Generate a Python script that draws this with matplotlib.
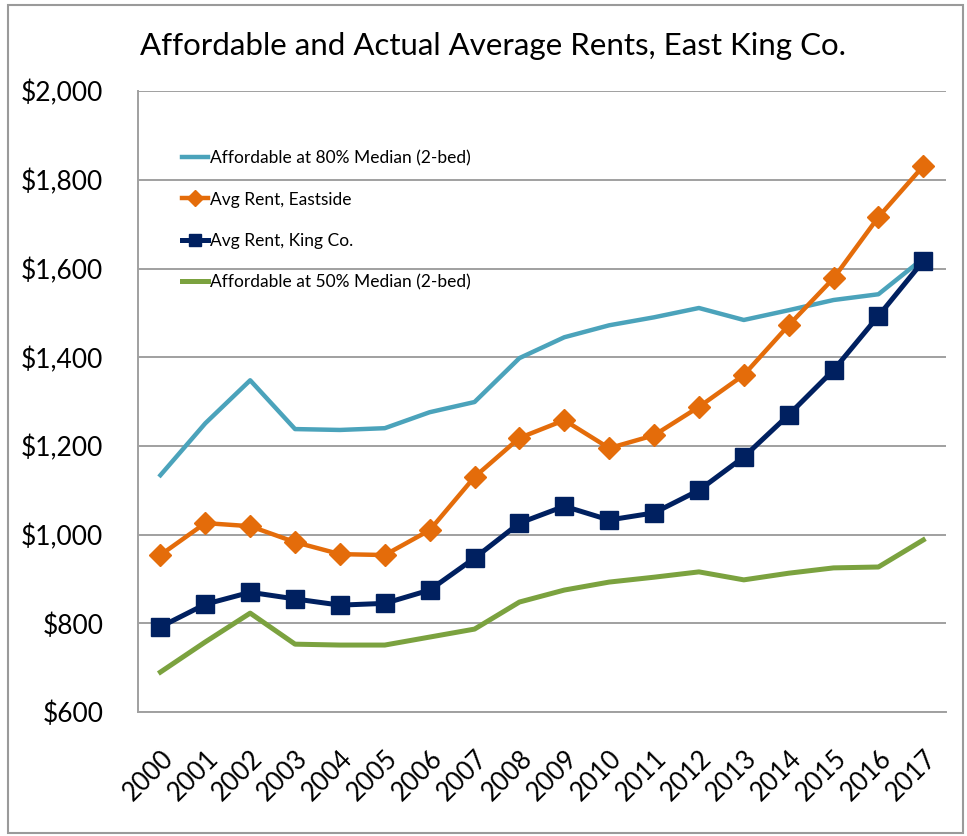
import numpy as np
import matplotlib
matplotlib.use("Agg")
import matplotlib.pyplot as plt
from matplotlib.patches import Rectangle
from matplotlib.ticker import FuncFormatter

years = [str(y) for y in range(2000, 2018)]

afford_80 = [1134, 1251, 1348, 1238, 1236, 1240, 1276, 1299, 1398, 1445,
             1472, 1490, 1511, 1484, 1506, 1529, 1542, 1623]
rent_eastside = [954, 1026, 1019, 983, 956, 954, 1010, 1130, 1218, 1258,
                 1195, 1224, 1288, 1360, 1472, 1578, 1716, 1831]
rent_king = [792, 843, 870, 855, 841, 845, 875, 947, 1026, 1064,
             1033, 1049, 1100, 1175, 1270, 1371, 1493, 1617]
afford_50 = [690, 758, 823, 753, 751, 751, 769, 787, 848, 875,
             893, 904, 916, 898, 913, 925, 927, 988]

labels = ['Affordable at 80% Median (2-bed)', 'Avg Rent, Eastside',
          'Avg Rent, King Co.', 'Affordable at 50% Median (2-bed)']

plt.rcParams['font.family'] = ['Lato', 'DejaVu Sans']

fig = plt.figure(figsize=(9.67, 8.36), dpi=100)
ax = fig.add_axes([0.1427, 0.1483, 0.8353, 0.7427])

x = np.arange(len(years))
ax.plot(x, afford_80, color='#4BA3BB', lw=3.2, label=labels[0], zorder=3)
ax.plot(x, rent_eastside, color='#E46C0A', lw=3.2, marker='D', ms=11,
        label=labels[1], zorder=4)
ax.plot(x, rent_king, color='#002060', lw=3.6, marker='s', ms=13,
        label=labels[2], zorder=4)
ax.plot(x, afford_50, color='#7BA23F', lw=3.6, label=labels[3], zorder=3)

ax.set_xlim(-0.5, len(years) - 0.5)
ax.set_ylim(600, 2000)
ax.set_yticks(range(600, 2001, 200))
ax.yaxis.set_major_formatter(FuncFormatter(lambda v, p: '${:,.0f}'.format(v)))
ax.set_xticks(x)
ax.set_xticklabels(years, rotation=45, ha='right', rotation_mode='anchor')
ax.tick_params(axis='y', length=0, pad=25, labelsize=19)
ax.tick_params(axis='x', length=0, pad=24, labelsize=18.5)

ax.grid(axis='y', color='#A0A0A0', lw=1.4)
ax.set_axisbelow(True)
for s in ['top', 'right']:
    ax.spines[s].set_visible(False)
for s in ['left', 'bottom']:
    ax.spines[s].set_color('#A0A0A0')
    ax.spines[s].set_linewidth(1.4)

ax.legend(loc='upper left', bbox_to_anchor=(0.035, 0.93), frameon=False,
          fontsize=12.5, handlelength=1.5, handletextpad=0.1,
          labelspacing=1.45, markerscale=0.7)

fig.text(0.51, 0.945, 'Affordable and Actual Average Rents, East King Co.',
         ha='center', va='center', fontsize=22.5)

fig.patches.append(Rectangle((0.008, 0.004), 0.988, 0.99, transform=fig.transFigure,
                             fill=False, edgecolor='#9A9A9A', lw=1.5))

fig.savefig('out.png', dpi=100)
